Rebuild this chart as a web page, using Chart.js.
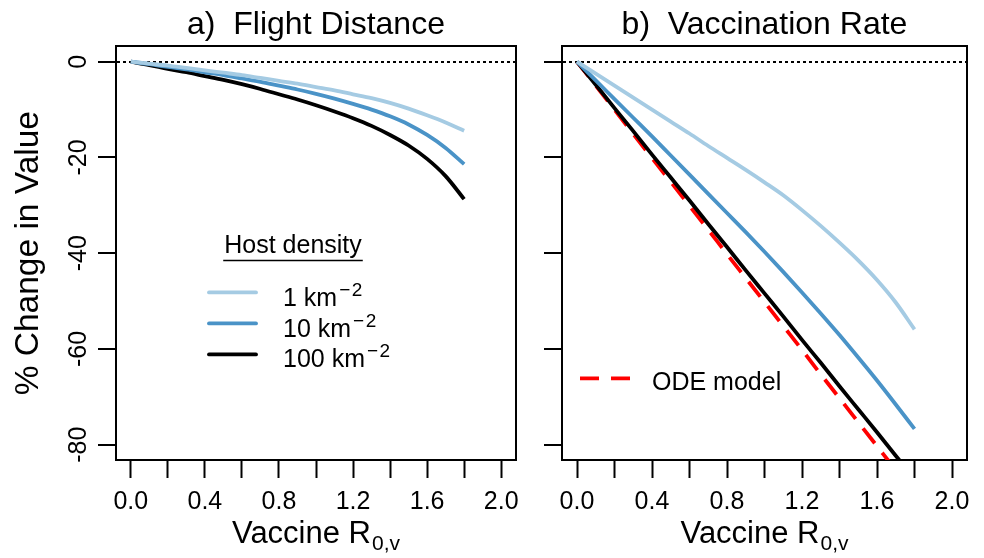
<!DOCTYPE html>
<html>
<head>
<meta charset="utf-8">
<script src="https://cdn.jsdelivr.net/npm/chart.js@4.4.0/dist/chart.umd.min.js"></script>
<style>
  body { margin: 0; background: #fff; }
  #panelA { position: absolute; left: 0; top: 0; }
  #panelB { position: absolute; left: 540px; top: 0; }
</style>
</head>
<body>
<canvas id="panelA" width="540" height="558"></canvas>
<canvas id="panelB" width="444" height="558"></canvas>
<script>
// vaccine R0,v values shared by every curve
const r0v = [0, 0.1, 0.2, 0.3, 0.4, 0.5, 0.6, 0.7, 0.8, 0.9, 1.0, 1.1, 1.2, 1.3, 1.4, 1.5, 1.6, 1.7, 1.8];

// a) flight distance, % change
const flightLow  = [0, -0.4, -0.8, -1.3, -1.8, -2.3, -2.8, -3.4, -4.0, -4.6, -5.3, -6.0, -6.8, -7.6, -8.6, -9.8, -11.2, -12.7, -14.4];
const flightMid  = [0, -0.5, -1.1, -1.6, -2.2, -2.8, -3.5, -4.2, -5.0, -5.8, -6.7, -7.7, -8.8, -10.0, -11.4, -13.1, -15.3, -18.0, -21.4];
const flightHigh = [0, -0.7, -1.5, -2.2, -3.0, -3.8, -4.7, -5.7, -6.8, -7.9, -9.1, -10.4, -11.8, -13.4, -15.3, -17.5, -20.3, -23.9, -28.7];

// b) vaccination rate, % change
const vaccLow  = [0, -2.5, -5.0, -7.5, -10.0, -12.5, -15.0, -17.6, -20.1, -22.6, -25.2, -27.9, -31.0, -34.3, -37.8, -41.5, -45.6, -50.3, -55.9];
const vaccMid  = [0, -3.9, -7.8, -11.7, -15.6, -19.6, -23.6, -27.6, -31.6, -35.6, -39.7, -43.9, -48.2, -52.6, -57.1, -61.8, -66.6, -71.6, -76.7];
const vaccHigh = [0, -4.8, -9.7, -14.5, -19.4, -24.2, -29.0, -33.9, -38.7, -43.6, -48.4, -53.2, -58.1, -62.9, -67.8, -72.6, -77.4, -82.3, -87.1];
const odeModel = [0, -5.0, -10.0, -15.1, -20.1, -25.1, -30.1, -35.1, -40.2, -45.2, -50.2, -55.2, -60.2, -65.3, -70.3, -75.3, -80.3, -85.3, -90.4];

const densities = ['1', '10', '100'];

const xTickValues = [0, 0.2, 0.4, 0.6, 0.8, 1.0, 1.2, 1.4, 1.6, 1.8, 2.0];
const xTickLabels = ['0.0', '', '0.4', '', '0.8', '', '1.2', '', '1.6', '', '2.0'];
const yTickValues = [0, -20, -40, -60, -80];
const yTickLabels = ['0', '-20', '-40', '-60', '-80'];

const FONT = "'Liberation Sans', Arial, Helvetica, sans-serif";
Chart.defaults.font.family = FONT;
Chart.defaults.color = '#000';

const LIGHT = '#a5cbe3';
const MID = '#4a93c7';

function pts(ys) {
  return r0v.map((x, i) => ({ x: x, y: ys[i] }));
}

function line(label, ys, color, dash) {
  return {
    label: label,
    data: pts(ys),
    borderColor: color,
    backgroundColor: color,
    borderWidth: 3.8,
    borderDash: dash || [],
    pointRadius: 0,
    cubicInterpolationMode: 'monotone',
    clip: 0,
    xAxisID: 'x',
    yAxisID: 'y'
  };
}

function scales(yWidth, showYLabels, yTitle) {
  return {
    x: {
      type: 'linear', position: 'bottom', min: -0.08, max: 2.08,
      afterBuildTicks: s => { s.ticks = xTickValues.map(v => ({ value: v })); },
      afterFit: s => { s.height = 98; },
      grid: { drawOnChartArea: false, drawTicks: true, tickLength: 18, tickColor: '#000', tickWidth: 2 },
      border: { display: true, color: '#000', width: 2 },
      ticks: { autoSkip: false, maxRotation: 0, padding: 9, font: { size: 25 },
        callback: (v, i) => xTickLabels[i] }
    },
    y: {
      type: 'linear', position: 'left', min: -83.2, max: 3.2,
      afterBuildTicks: s => { s.ticks = yTickValues.map(v => ({ value: v })); },
      afterFit: s => { s.width = yWidth; },
      grid: {
        drawOnChartArea: true,
        color: c => (c.tick && c.tick.value === 0) ? '#000' : 'rgba(0,0,0,0)',
        lineWidth: 2,
        drawTicks: true, tickLength: 18, tickColor: '#000', tickWidth: 2
      },
      border: { display: true, color: '#000', width: 2, dash: [3, 3] },
      ticks: { display: showYLabels, minRotation: 90, maxRotation: 90, crossAlign: 'center',
        padding: 1, font: { size: 25 }, callback: (v, i) => yTickLabels[i] },
      title: { display: !!yTitle, text: yTitle || '', font: { size: 33.5 }, padding: { top: 9, bottom: 0 } }
    },
    xTop: {
      type: 'linear', position: 'top', min: -0.08, max: 2.08,
      afterFit: s => { s.height = 0; },
      ticks: { display: false },
      grid: { drawOnChartArea: false, drawTicks: false },
      border: { display: true, color: '#000', width: 2 }
    },
    yRight: {
      type: 'linear', position: 'right', min: -83.2, max: 3.2,
      afterFit: s => { s.width = 0; },
      ticks: { display: false },
      grid: { drawOnChartArea: false, drawTicks: false },
      border: { display: true, color: '#000', width: 2 }
    }
  };
}

// "Vaccine R" with a "0,v" subscript under each panel
const xTitle = {
  id: 'xTitle',
  afterDraw(chart) {
    const { ctx, chartArea } = chart;
    const main = 'Vaccine R', sub = '0,v';
    const cx = (chartArea.left + chartArea.right) / 2;
    const base = chartArea.bottom + 83;
    ctx.save();
    ctx.fillStyle = '#000';
    ctx.textAlign = 'left';
    ctx.textBaseline = 'alphabetic';
    ctx.font = '31px ' + FONT;
    const w1 = ctx.measureText(main).width;
    ctx.font = '21px ' + FONT;
    const w2 = ctx.measureText(sub).width;
    const x = cx - (w1 + w2 + 1) / 2;
    ctx.font = '31px ' + FONT;
    ctx.fillText(main, x, base);
    ctx.font = '21px ' + FONT;
    ctx.fillText(sub, x + w1 + 1, base + 7);
    ctx.restore();
  }
};

const hostLegend = {
  id: 'hostLegend',
  afterDatasetsDraw(chart) {
    const { ctx, chartArea: ca } = chart;
    const left = ca.left, top = ca.top;
    ctx.save();
    ctx.fillStyle = '#000';
    ctx.textBaseline = 'alphabetic';
    ctx.font = '25px ' + FONT;
    ctx.textAlign = 'center';
    const head = 'Host density';
    const hw = ctx.measureText(head).width;
    ctx.fillText(head, left + 177, top + 207);
    ctx.strokeStyle = '#000';
    ctx.lineWidth = 1.5;
    ctx.beginPath();
    ctx.moveTo(left + 177 - hw / 2 - 1, top + 214);
    ctx.lineTo(left + 177 + hw / 2 + 1, top + 214);
    ctx.stroke();
    ctx.textAlign = 'left';
    chart.data.datasets.forEach((ds, i) => {
      const ly = top + 246 + i * 31;
      ctx.strokeStyle = ds.borderColor;
      ctx.lineWidth = ds.borderWidth;
      ctx.lineCap = 'round';
      ctx.beginPath();
      ctx.moveTo(left + 93, ly);
      ctx.lineTo(left + 140, ly);
      ctx.stroke();
      const base = top + 260 + i * 30.5;
      ctx.font = '25px ' + FONT;
      const txt = ds.label + ' km';
      ctx.fillText(txt, left + 167, base);
      let x = left + 167 + ctx.measureText(txt).width + 2;
      ctx.font = '19px ' + FONT;
      ctx.fillText('\u2212', x, base - 10);
      x += ctx.measureText('\u2212').width + 1.5;
      ctx.fillText('2', x, base - 10);
    });
    ctx.restore();
  }
};

const odeLegend = {
  id: 'odeLegend',
  afterDatasetsDraw(chart) {
    const { ctx, chartArea: ca } = chart;
    const ds = chart.data.datasets[3];
    ctx.save();
    ctx.strokeStyle = ds.borderColor;
    ctx.lineWidth = ds.borderWidth;
    ctx.setLineDash(ds.borderDash);
    ctx.beginPath();
    ctx.moveTo(ca.left + 18, ca.top + 332);
    ctx.lineTo(ca.left + 68, ca.top + 332);
    ctx.stroke();
    ctx.setLineDash([]);
    ctx.fillStyle = '#000';
    ctx.font = '25px ' + FONT;
    ctx.textAlign = 'left';
    ctx.textBaseline = 'alphabetic';
    ctx.fillText(ds.label, ca.left + 90, ca.top + 344);
    ctx.restore();
  }
};

function titleOpts(text) {
  return {
    display: true, text: text, fullSize: false, color: '#000',
    font: { size: 32, weight: 'normal' }, padding: { top: 6, bottom: 2 }
  };
}

new Chart(document.getElementById('panelA').getContext('2d'), {
  type: 'line',
  data: {
    datasets: [
      line(densities[0], flightLow, LIGHT),
      line(densities[1], flightMid, MID),
      line(densities[2], flightHigh, '#000')
    ]
  },
  options: {
    responsive: false, devicePixelRatio: 1, animation: false,
    layout: { padding: { left: 0, right: 24, top: 0, bottom: 0 } },
    scales: scales(116, true, '% Change in Value'),
    plugins: { title: titleOpts('a)  Flight Distance'), legend: { display: false }, tooltip: { enabled: false } }
  },
  plugins: [xTitle, hostLegend]
});

new Chart(document.getElementById('panelB').getContext('2d'), {
  type: 'line',
  data: {
    datasets: [
      line(densities[0], vaccLow, LIGHT),
      line(densities[1], vaccMid, MID),
      line(densities[2], vaccHigh, '#000'),
      line('ODE model', odeModel, '#ff0000', [19, 12])
    ]
  },
  options: {
    responsive: false, devicePixelRatio: 1, animation: false,
    layout: { padding: { left: 0, right: 17, top: 0, bottom: 0 } },
    scales: scales(22, false, null),
    plugins: { title: titleOpts('b)  Vaccination Rate'), legend: { display: false }, tooltip: { enabled: false } }
  },
  plugins: [xTitle, odeLegend]
});
</script>
</body>
</html>
